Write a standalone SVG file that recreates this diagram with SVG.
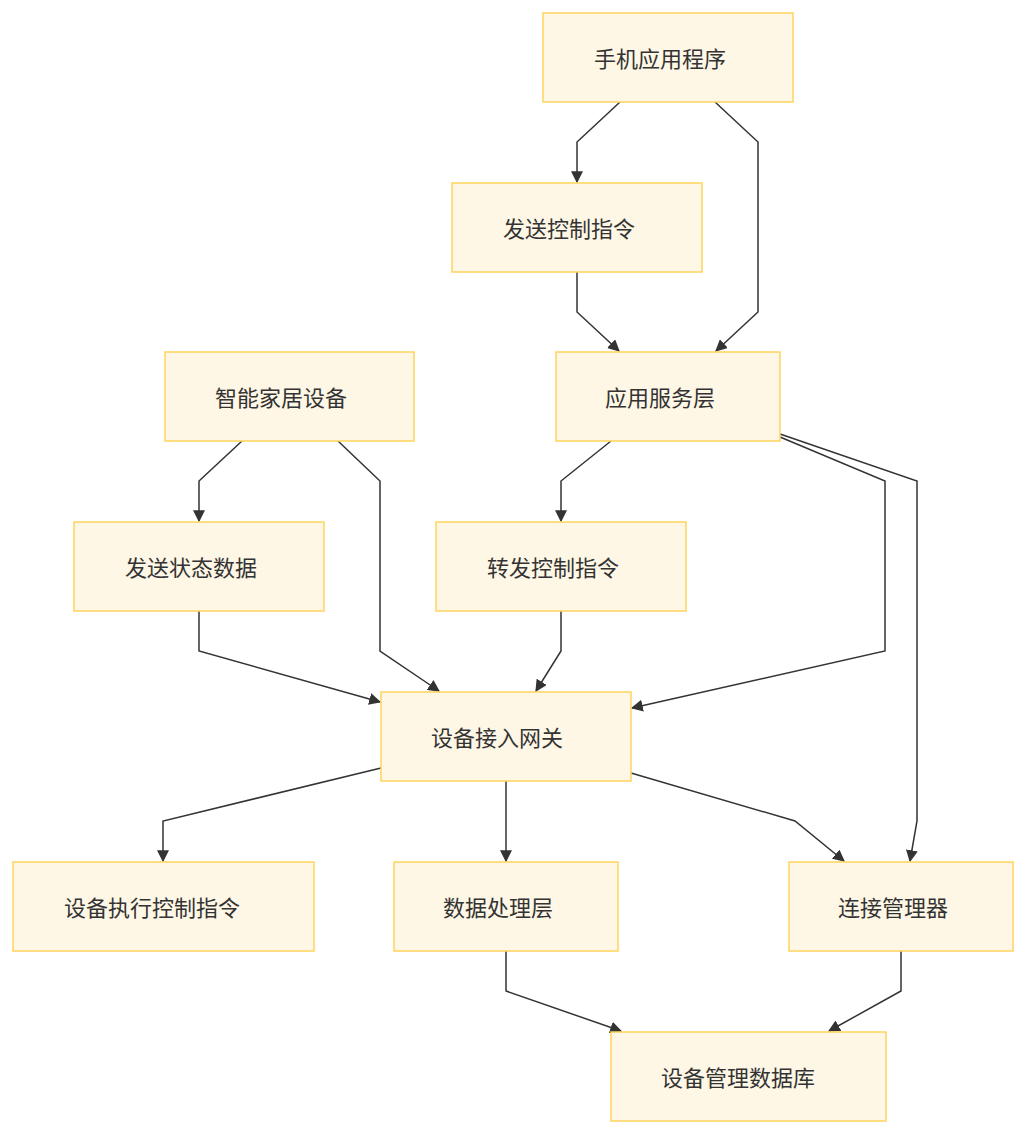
<svg xmlns="http://www.w3.org/2000/svg" width="1026" height="1134" viewBox="0 0 1026 1134">
<style>
.n rect{fill:#fff7e6;stroke:#ffd35c;stroke-width:1.5}
.n text{font-family:"Noto Sans CJK SC","Noto Sans",sans-serif;font-size:22px;fill:#333;text-anchor:middle;dominant-baseline:central}
.e path{fill:none;stroke:#333;stroke-width:1.5;marker-end:url(#a)}
</style>
<defs>
<marker id="a" viewBox="0 0 10 10" refX="9" refY="5" markerWidth="12" markerHeight="12" orient="auto" markerUnits="userSpaceOnUse">
<path d="M0,0L10,5L0,10z" fill="#333"/>
</marker>
</defs>
<rect width="1026" height="1134" fill="#fff"/>
<g class="e">
<path d="M620,102L577,142L577,182"/>
<path d="M715,102L758,142L758,312L716,351"/>
<path d="M577,272L577,312L619,351"/>
<path d="M242,441L199,481L199,521"/>
<path d="M338,441L380,481L380,651L439,691"/>
<path d="M611,441L561,481L561,521"/>
<path d="M780,437L885,481L885,651L632,708"/>
<path d="M780,434L917,481L917,821L910,861"/>
<path d="M199,611L199,651L380,702"/>
<path d="M561,611L561,651L536,691"/>
<path d="M381,768L163,821L163,861"/>
<path d="M506,781L506,861"/>
<path d="M631,773L795,821L844,861"/>
<path d="M506,951L506,991L621,1031"/>
<path d="M901,951L901,991L829,1031"/>
</g>
<g id="n1" class="n"><rect x="543" y="13" width="250" height="89"/><text x="660" y="57">手机应用程序</text></g>
<g id="n2" class="n"><rect x="452" y="183" width="250" height="89"/><text x="569" y="227">发送控制指令</text></g>
<g id="n3" class="n"><rect x="165" y="352" width="249" height="89"/><text x="281" y="396">智能家居设备</text></g>
<g id="n4" class="n"><rect x="556" y="352" width="224" height="89"/><text x="660" y="396">应用服务层</text></g>
<g id="n5" class="n"><rect x="74" y="522" width="250" height="89"/><text x="191" y="566">发送状态数据</text></g>
<g id="n6" class="n"><rect x="436" y="522" width="250" height="89"/><text x="553" y="566">转发控制指令</text></g>
<g id="n7" class="n"><rect x="381" y="692" width="250" height="89"/><text x="497" y="736">设备接入网关</text></g>
<g id="n8" class="n"><rect x="13" y="862" width="301" height="89"/><text x="152" y="906">设备执行控制指令</text></g>
<g id="n9" class="n"><rect x="394" y="862" width="224" height="89"/><text x="498" y="906">数据处理层</text></g>
<g id="n10" class="n"><rect x="789" y="862" width="224" height="89"/><text x="893" y="906">连接管理器</text></g>
<g id="n11" class="n"><rect x="611" y="1032" width="275" height="89"/><text x="738" y="1076">设备管理数据库</text></g>
</svg>
